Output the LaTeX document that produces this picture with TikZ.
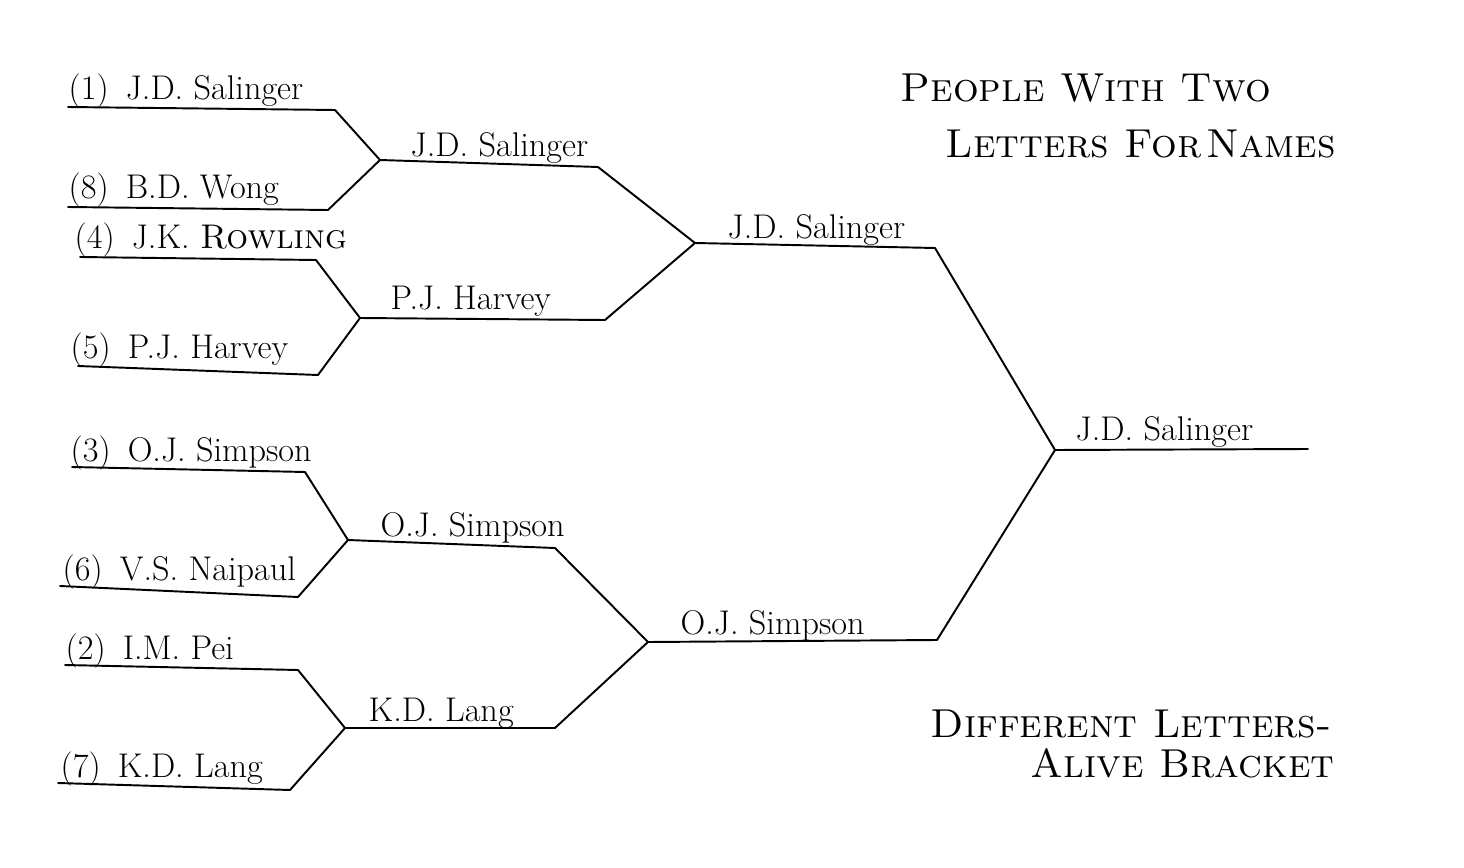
\documentclass[tikz,border=0pt]{standalone}
\usetikzlibrary{positioning}
\tikzset{every picture/.append style={thick}}
\tikzset{
    bline/.style={line width=1.1pt, line join=round, line cap=round},
    pick/.style={anchor=base west, inner sep=0pt, font=\fontsize{19.5}{23}\selectfont},
    heading/.style={anchor=base west, inner sep=0pt, font=\fontsize{23}{28}\selectfont\scshape},
}

\begin{document}
\begin{tikzpicture}[x=0.02cm, y=-0.02cm]
    \useasboundingbox (0,0) rectangle (1464,868);

    % where the lines meet
    \coordinate (q1) at (380,160);
    \coordinate (q2) at (360,318);
    \coordinate (q3) at (348,540);
    \coordinate (q4) at (345,728);
    \coordinate (s1) at (695,243);
    \coordinate (s2) at (648,642);
    \coordinate (f) at (1055,450);

    % first round
    \coordinate (a1) at (68,107);  \coordinate (b1) at (335,110);
    \coordinate (a8) at (68,207);  \coordinate (b8) at (328,210);
    \coordinate (a4) at (80,257);  \coordinate (b4) at (316,260);
    \coordinate (a5) at (78,366);  \coordinate (b5) at (318,375);
    \coordinate (a3) at (72,467);  \coordinate (b3) at (305,472);
    \coordinate (a6) at (60,586);  \coordinate (b6) at (298,597);
    \coordinate (a2) at (65,665);  \coordinate (b2) at (298,670);
    \coordinate (a7) at (58,783);  \coordinate (b7) at (290,790);
    \draw[bline] (a1) -- (b1) -- (q1);
    \draw[bline] (a8) -- (b8) -- (q1);
    \draw[bline] (a4) -- (b4) -- (q2);
    \draw[bline] (a5) -- (b5) -- (q2);
    \draw[bline] (a3) -- (b3) -- (q3);
    \draw[bline] (a6) -- (b6) -- (q3);
    \draw[bline] (a2) -- (b2) -- (q4);
    \draw[bline] (a7) -- (b7) -- (q4);

    % second round
    \coordinate (c1) at (598,167);
    \coordinate (c2) at (605,320);
    \coordinate (c3) at (555,548);
    \coordinate (c4) at (555,728);
    \draw[bline] (q1) -- (c1) -- (s1);
    \draw[bline] (q2) -- (c2) -- (s1);
    \draw[bline] (q3) -- (c3) -- (s2);
    \draw[bline] (q4) -- (c4) -- (s2);

    % semis and final
    \coordinate (d1) at (935,248);
    \coordinate (d2) at (937,640);
    \coordinate (win) at (1308,449);
    \draw[bline] (s1) -- (d1) -- (f);
    \draw[bline] (s2) -- (d2) -- (f);
    \draw[bline] (f) -- (win);

    % names
    \node[pick] (n1) at (68,100) {(1)\enspace J.D. Salinger};
    \node[pick] (n8) at (68,199) {(8)\enspace B.D. Wong};
    \node[pick] (n4) at (74,249) {(4)\enspace J.K. \textsc{Rowling}};
    \node[pick] (n5) at (70,358) {(5)\enspace P.J. Harvey};
    \node[pick] (n3) at (70,461) {(3)\enspace O.J. Simpson};
    \node[pick] (n6) at (62,580) {(6)\enspace V.S. Naipaul};
    \node[pick] (n2) at (65,659) {(2)\enspace I.M. Pei};
    \node[pick] (n7) at (60,777) {(7)\enspace K.D. Lang};

    \node[pick] (w1) at (410,157) {J.D. Salinger};
    \node[pick] (w2) at (390,310) {P.J. Harvey};
    \node[pick] (w3) at (380,536) {O.J. Simpson};
    \node[pick] (w4) at (368,721) {K.D. Lang};
    \node[pick] (v1) at (727,239) {J.D. Salinger};
    \node[pick] (v2) at (680,634) {O.J. Simpson};
    \node[pick] (champ) at (1075,440) {J.D. Salinger};

    % titles
    \node[heading] (t1) at (900,102) {People With Two};
    \node[heading] (t2) at (945,158) {Letters For\hspace{0.12em}Names};
    \node[heading] (t3) at (930,737) {Different Letters-};
    \node[heading] (t4) at (1030,777) {Alive Bracket};
\end{tikzpicture}
\end{document}
